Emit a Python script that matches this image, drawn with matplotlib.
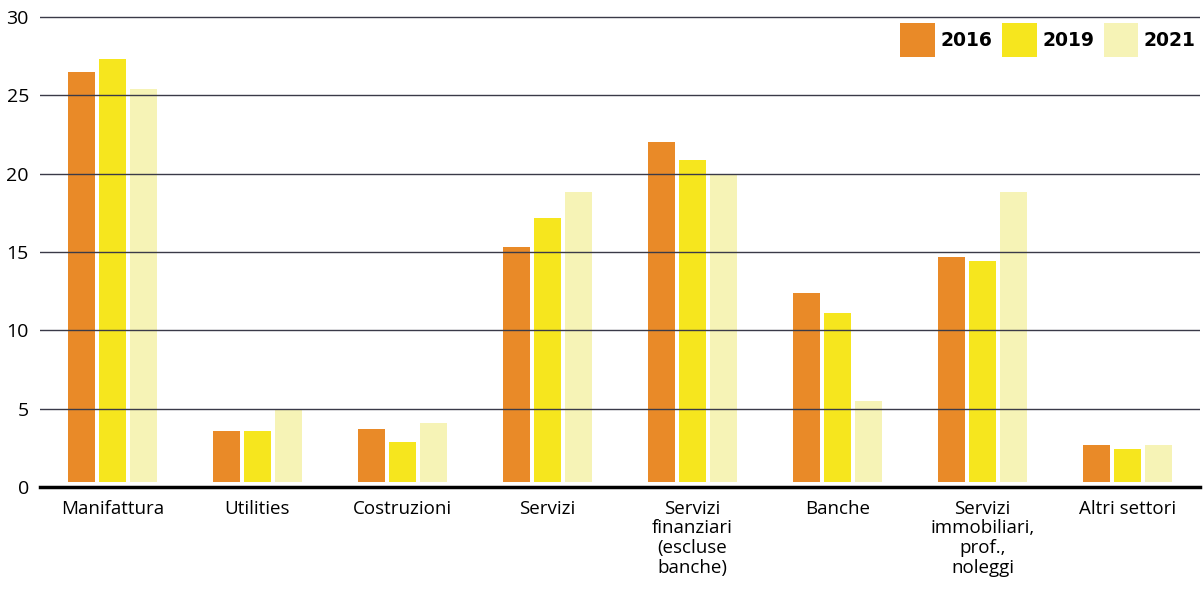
import numpy as np
import matplotlib
matplotlib.use('Agg')
import matplotlib.pyplot as plt

categories = ['Manifattura', 'Utilities', 'Costruzioni', 'Servizi',
              'Servizi\nfinanziari\n(escluse\nbanche)', 'Banche',
              'Servizi\nimmobiliari,\nprof.,\nnoleggi', 'Altri settori']
years = ['2016', '2019', '2021']
v2016 = [26.5, 3.6, 3.7, 15.3, 22.0, 12.4, 14.7, 2.7]
v2019 = [27.3, 3.6, 2.9, 17.2, 20.9, 11.1, 14.4, 2.4]
v2021 = [25.4, 4.9, 4.1, 18.8, 19.9, 5.5, 18.8, 2.7]
yticks = [0, 5, 10, 15, 20, 25, 30]

colors = ['#E98A28', '#F6E61E', '#F6F3B6']

plt.rcParams['font.family'] = ['Open Sans', 'DejaVu Sans']

fig = plt.figure(figsize=(12.03, 5.96), dpi=100)
ax = fig.add_axes([40 / 1203, (596 - 487) / 596, 1160 / 1203, 470 / 596 * 30.4 / 30])

x = np.arange(len(categories))
width = 0.18
step = 0.214
base = 0.3
for i, (vals, col, yr) in enumerate(zip([v2016, v2019, v2021], colors, years)):
    h = [v - base for v in vals]
    ax.bar(x + (i - 1) * step, h, width, bottom=base, color=col, label=yr, zorder=2)

ax.set_xlim(-0.5, 7.5)
ax.set_ylim(0, 30.4)
ax.set_yticks(yticks)
ax.set_yticklabels([str(t) for t in yticks], fontsize=14)
ax.set_xticks(x)
ax.set_xticklabels(categories, fontsize=13.5, linespacing=1.12, va='top')
ax.tick_params(axis='both', length=0)
ax.tick_params(axis='x', pad=9)
ax.tick_params(axis='y', pad=8)

for t in yticks[1:]:
    ax.axhline(t, color='#3a3a48', linewidth=1.0, zorder=3)
ax.axhline(0, color='black', linewidth=2.5, zorder=3, clip_on=False)

for s in ax.spines.values():
    s.set_visible(False)

leg = ax.legend(loc='upper right', ncol=3, frameon=False, bbox_to_anchor=(1.006, 0.997),
                handlelength=1.85, handleheight=2.4, handletextpad=0.3, columnspacing=0.5,
                borderaxespad=0.2,
                prop={'weight': 'heavy', 'size': 13.5, 'family': 'DejaVu Sans'})

fig.savefig('out.png', dpi=100)
